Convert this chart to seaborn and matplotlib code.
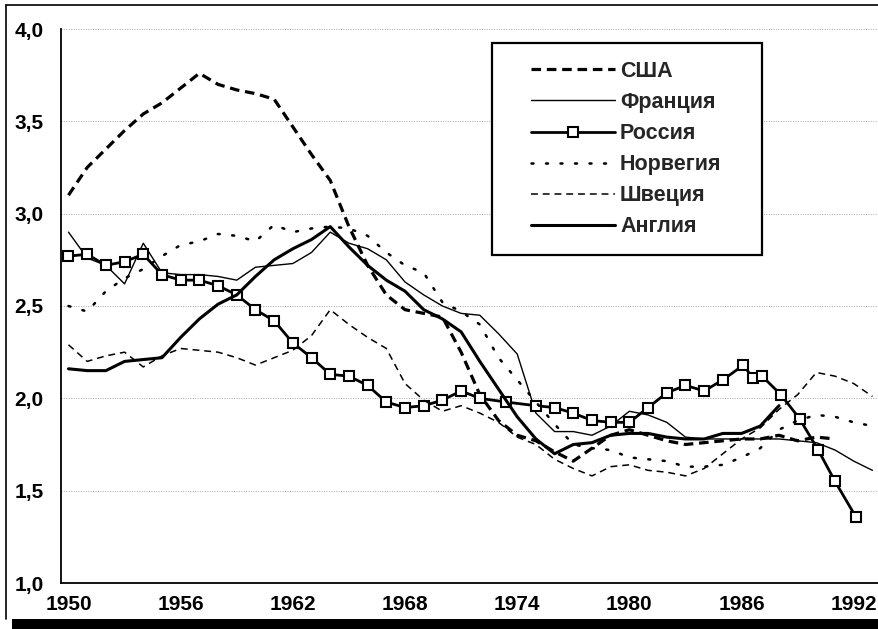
import matplotlib
matplotlib.use("Agg")
import matplotlib.pyplot as plt
import seaborn as sns
from matplotlib.ticker import FuncFormatter, MultipleLocator
from matplotlib.lines import Line2D
from matplotlib.patches import Rectangle

# ---------------- data ----------------
years = list(range(1950, 1994))  # 1950..1993
usa_years = list(range(1950, 1992))
usa = [3.10, 3.25, 3.35, 3.45, 3.54, 3.60, 3.68, 3.76, 3.70, 3.67,
       3.65, 3.62, 3.47, 3.32, 3.18, 2.93, 2.72, 2.56, 2.48, 2.46,
       2.44, 2.25, 2.02, 1.88, 1.80, 1.77, 1.71, 1.66, 1.73, 1.80,
       1.83, 1.80, 1.77, 1.75, 1.76, 1.77, 1.78, 1.78, 1.80, 1.77,
       1.79, 1.78]
france = [2.90, 2.76, 2.72, 2.62, 2.84, 2.68, 2.67, 2.67, 2.66, 2.64,
          2.71, 2.72, 2.73, 2.79, 2.90, 2.84, 2.81, 2.75, 2.63, 2.56,
          2.50, 2.46, 2.45, 2.35, 2.24, 1.92, 1.82, 1.82, 1.80, 1.85,
          1.93, 1.91, 1.87, 1.79, 1.78, 1.78, 1.78, 1.78, 1.78, 1.77,
          1.76, 1.72, 1.66, 1.61]
russia_years = list(range(1950, 1973)) + [1973.4] + list(range(1975, 1986)) + \
               [1986.1, 1986.6, 1987.1, 1988.1, 1989.1, 1990.1, 1991.0, 1992.1]
russia = [2.77, 2.78, 2.72, 2.74, 2.78, 2.67, 2.64, 2.64, 2.61, 2.56,
          2.48, 2.42, 2.30, 2.22, 2.13, 2.12, 2.07, 1.98, 1.95, 1.96,
          1.99, 2.04, 2.00, 1.98,
          1.96, 1.95, 1.92, 1.88, 1.87, 1.87, 1.95, 2.03, 2.07, 2.04, 2.10,
          2.18, 2.11, 2.12, 2.02, 1.89, 1.72, 1.55, 1.36]
norway = [2.50, 2.47, 2.58, 2.65, 2.70, 2.77, 2.83, 2.85, 2.89, 2.88,
          2.85, 2.94, 2.90, 2.92, 2.93, 2.92, 2.88, 2.79, 2.72, 2.68,
          2.52, 2.47, 2.40, 2.22, 2.10, 1.98, 1.86, 1.75, 1.73, 1.72,
          1.68, 1.67, 1.66, 1.63, 1.63, 1.64, 1.68, 1.73, 1.83, 1.88,
          1.91, 1.90, 1.87, 1.85]
sweden = [2.29, 2.20, 2.23, 2.25, 2.17, 2.23, 2.27, 2.26, 2.25, 2.22,
          2.18, 2.22, 2.26, 2.34, 2.48, 2.40, 2.33, 2.27, 2.08, 1.99,
          1.93, 1.96, 1.92, 1.87, 1.79, 1.75, 1.67, 1.62, 1.58, 1.63,
          1.64, 1.61, 1.60, 1.58, 1.62, 1.70, 1.78, 1.84, 1.94, 2.02,
          2.14, 2.12, 2.08, 2.01]
england_years = list(range(1950, 1989))
england = [2.16, 2.15, 2.15, 2.20, 2.21, 2.22, 2.33, 2.43, 2.51, 2.56,
           2.66, 2.75, 2.81, 2.86, 2.93, 2.82, 2.72, 2.64, 2.58, 2.48,
           2.43, 2.36, 2.20, 2.05, 1.90, 1.78, 1.70, 1.75, 1.76, 1.80,
           1.81, 1.81, 1.79, 1.78, 1.78, 1.81, 1.81, 1.85, 1.96]

labels = ["США", "Франция", "Россия", "Норвегия", "Швеция", "Англия"]
x_tick_years = [1950, 1956, 1962, 1968, 1974, 1980, 1986, 1992]
y_ticks = [1.0, 1.5, 2.0, 2.5, 3.0, 3.5, 4.0]

# ---------------- style ----------------
sns.set_theme(style="white")
plt.rcParams["font.family"] = ["Liberation Sans", "DejaVu Sans"]
plt.rcParams["font.weight"] = "bold"

fig = plt.figure(figsize=(8.79, 6.29), dpi=100)
ax = fig.add_axes([61 / 879, 1 - 583 / 629, 1 - 61 / 879, (583 - 29) / 629])

k = dict(ax=ax, color="black", legend=False, sort=False)
l_usa = sns.lineplot(x=usa_years, y=usa, lw=2.3, linestyle=(0, (3.0, 1.8)), **k).lines[-1]
l_fr = sns.lineplot(x=years, y=france, lw=1.0, **k).lines[-1]
l_ru = sns.lineplot(x=russia_years, y=russia, lw=2.0, marker="s", markersize=6.5,
                    markerfacecolor="white", markeredgecolor="black",
                    markeredgewidth=1.5, **k).lines[-1]
l_no = sns.lineplot(x=years, y=norway, lw=1.8, linestyle=(0, (0.8, 5.0)),
                    dash_capstyle="round", **k).lines[-1]
l_sw = sns.lineplot(x=years, y=sweden, lw=1.1, linestyle=(0, (4.5, 3.2)), **k).lines[-1]
l_en = sns.lineplot(x=england_years, y=england, lw=2.2, **k).lines[-1]

ax.set_xlim(1949.6, 1993.35)
ax.set_ylim(1.0, 4.0)
ax.set_yticks(y_ticks)
ax.yaxis.set_major_formatter(FuncFormatter(lambda v, p: f"{v:.1f}".replace(".", ",")))
ax.set_xticks(x_tick_years)
ax.xaxis.set_minor_locator(MultipleLocator(1))
ax.set_xlabel("")
ax.set_ylabel("")

for s in ["top", "right"]:
    ax.spines[s].set_visible(False)
for s in ["left", "bottom"]:
    ax.spines[s].set_color("black")
    ax.spines[s].set_linewidth(1.3)

ax.tick_params(axis="both", which="both", direction="inout", length=9, width=1.2,
               color="black", labelsize=15, labelcolor="black")
ax.tick_params(axis="x", which="both", pad=4)
ax.tick_params(axis="y", pad=8)
for t in ax.get_xticklabels() + ax.get_yticklabels():
    t.set_fontweight("bold")

ax.yaxis.grid(True, linestyle=(0, (1, 1.5)), color="#a8a8a8", lw=0.7)
ax.xaxis.grid(False)

# legend box
box = Rectangle((0.527, 0.592), 0.330, 0.383, transform=ax.transAxes,
                facecolor="white", edgecolor="black", lw=1.6, zorder=5)
ax.add_patch(box)
leg = ax.legend([l_usa, l_fr, l_ru, l_no, l_sw, l_en], labels,
                loc="upper left", bbox_to_anchor=(0.561, 0.962), frameon=False,
                borderpad=0, handlelength=3.9, handletextpad=0.25,
                labelspacing=0.47, fontsize=15.5, numpoints=1)
leg.set_zorder(6)
for t in leg.get_texts():
    t.set_fontweight("bold")

# scan frame
fig.add_artist(Line2D([6 / 879, 1], [1 - 5 / 629, 1 - 5 / 629], transform=fig.transFigure,
                      color="black", lw=1.2))
fig.add_artist(Line2D([6 / 879, 6 / 879], [1 - 5 / 629, 10 / 629], transform=fig.transFigure,
                      color="black", lw=1.2))
fig.add_artist(Rectangle((12 / 879, 0), 1, 10 / 629, transform=fig.transFigure,
                         facecolor="black", edgecolor="none"))

fig.savefig("out.png", dpi=100)
